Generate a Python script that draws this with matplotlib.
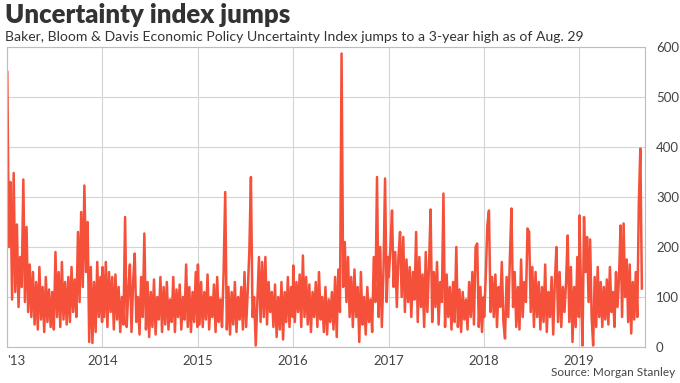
import matplotlib.pyplot as plt
import pandas as pd

# index values, one list per year (roughly every 6 days)
vals_2013 = [550, 200, 330, 95, 348, 110, 245, 80, 180, 120, 335, 90, 240, 70, 165,
             60, 150, 45, 130, 35, 160, 55, 120, 30, 140, 50, 115, 40, 110, 35,
             190, 60, 150, 40, 170, 55, 130, 45, 140, 50, 160, 70, 135, 60, 230,
             90, 270, 120, 323, 150, 250, 10, 160, 8, 130, 30, 170, 60, 140, 50]
vals_2014 = [160, 60, 170, 40, 150, 70, 140, 35, 145, 55, 120, 30, 100, 45, 260,
             40, 110, 165, 30, 130, 187, 50, 100, 25, 140, 60, 227, 35, 130, 20,
             110, 40, 135, 25, 100, 55, 140, 30, 120, 45, 130, 35, 95, 50, 140,
             30, 115, 60, 125, 35, 100, 55, 165, 40, 120, 30, 110, 50, 150, 40]
vals_2015 = [165, 45, 130, 40, 110, 55, 145, 35, 100, 60, 125, 30, 140, 50, 95,
             40, 150, 310, 35, 120, 25, 110, 45, 130, 30, 100, 55, 120, 35, 150,
             40, 110, 190, 340, 60, 100, 3, 90, 180, 50, 170, 60, 180, 45, 130,
             70, 110, 40, 125, 20, 100, 35, 130, 15, 110, 50, 140, 40, 120, 60]
vals_2016 = [163, 50, 130, 70, 145, 40, 183, 60, 140, 45, 125, 30, 110, 60, 130,
             40, 150, 55, 100, 30, 120, 25, 95, 50, 110, 35, 140, 20, 155, 70,
             587, 120, 210, 90, 180, 60, 140, 40, 155, 60, 120, 10, 150, 45, 100,
             25, 120, 50, 95, 30, 180, 90, 340, 60, 200, 40, 150, 337, 90, 180]
vals_2017 = [140, 200, 273, 120, 190, 80, 180, 230, 100, 220, 70, 175, 90, 160, 60,
             150, 95, 230, 50, 180, 80, 145, 40, 190, 70, 160, 275, 50, 150, 80,
             170, 45, 130, 90, 307, 40, 145, 60, 120, 35, 130, 50, 200, 40, 115,
             30, 110, 55, 95, 35, 130, 60, 150, 45, 200, 207, 40, 120, 30, 100]
vals_2018 = [60, 140, 243, 273, 70, 140, 60, 145, 40, 120, 80, 170, 50, 17, 140,
             60, 175, 277, 80, 150, 40, 120, 35, 175, 60, 130, 90, 237, 230, 70,
             160, 40, 150, 60, 130, 35, 120, 50, 165, 30, 110, 60, 140, 25, 130,
             200, 50, 150, 40, 120, 70, 130, 223, 50, 160, 10, 120, 40, 180, 60]
vals_2019 = [263, 120, 3, 260, 150, 220, 90, 215, 60, 3, 140, 40, 160, 60, 130,
             40, 120, 55, 135, 45, 160, 70, 110, 40, 150, 80, 140, 243, 60, 247,
             100, 175, 50, 165, 27, 130, 55, 150, 60, 287, 397, 117]

year_spans = [('2013-01-02', '2013-12-31', vals_2013),
              ('2014-01-02', '2014-12-31', vals_2014),
              ('2015-01-02', '2015-12-31', vals_2015),
              ('2016-01-02', '2016-12-31', vals_2016),
              ('2017-01-02', '2017-12-31', vals_2017),
              ('2018-01-02', '2018-12-31', vals_2018),
              ('2019-01-02', '2019-08-29', vals_2019)]

series = pd.concat([pd.Series(v, index=pd.date_range(a, b, periods=len(v)))
                    for a, b, v in year_spans])

year_ticks = ['2013', '2014', '2015', '2016', '2017', '2018', '2019']
year_labels = ["'13", '2014', '2015', '2016', '2017', '2018', '2019']
y_ticks = [0, 100, 200, 300, 400, 500, 600]

plt.rcParams['font.family'] = ['Lato', 'DejaVu Sans']

fig = plt.figure(figsize=(6.8, 3.83), dpi=100)
ax = fig.add_axes([7 / 680, 1 - 347 / 383, 638 / 680, 300 / 383])

ax.plot(series.index, series.values, color='#f4503a', linewidth=1.8)

ax.set_xlim(pd.Timestamp('2013-01-01'), pd.Timestamp('2019-09-10'))
ax.set_ylim(0, 600)
ax.set_xticks([pd.Timestamp(y + '-01-01') for y in year_ticks])
ax.set_xticklabels(year_labels)
ax.set_yticks(y_ticks)
ax.yaxis.tick_right()
ax.tick_params(axis='both', length=0, labelsize=9.5, labelcolor='#444444')
ax.tick_params(axis='y', pad=8)
ax.tick_params(axis='x', pad=6)
ax.get_xticklabels()[0].set_horizontalalignment('left')

ax.grid(True, color='#d4d4d4', linewidth=0.8)
ax.set_axisbelow(True)
for s in ax.spines.values():
    s.set_color('#bdbdbd')
    s.set_linewidth(0.8)

fig.text(5 / 680, 1 - 15 / 383, 'Uncertainty index jumps', fontsize=18.5,
         fontweight='heavy', color='#333333', va='center', ha='left')
fig.text(5 / 680, 1 - 37 / 383,
         'Baker, Bloom & Davis Economic Policy Uncertainty Index jumps to a 3-year high as of Aug. 29',
         fontsize=10.1, color='#333333', va='center', ha='left')
fig.text(675 / 680, 1 - 373 / 383, 'Source: Morgan Stanley', fontsize=8.5,
         color='#444444', va='center', ha='right')

fig.savefig('out.png', dpi=100)
